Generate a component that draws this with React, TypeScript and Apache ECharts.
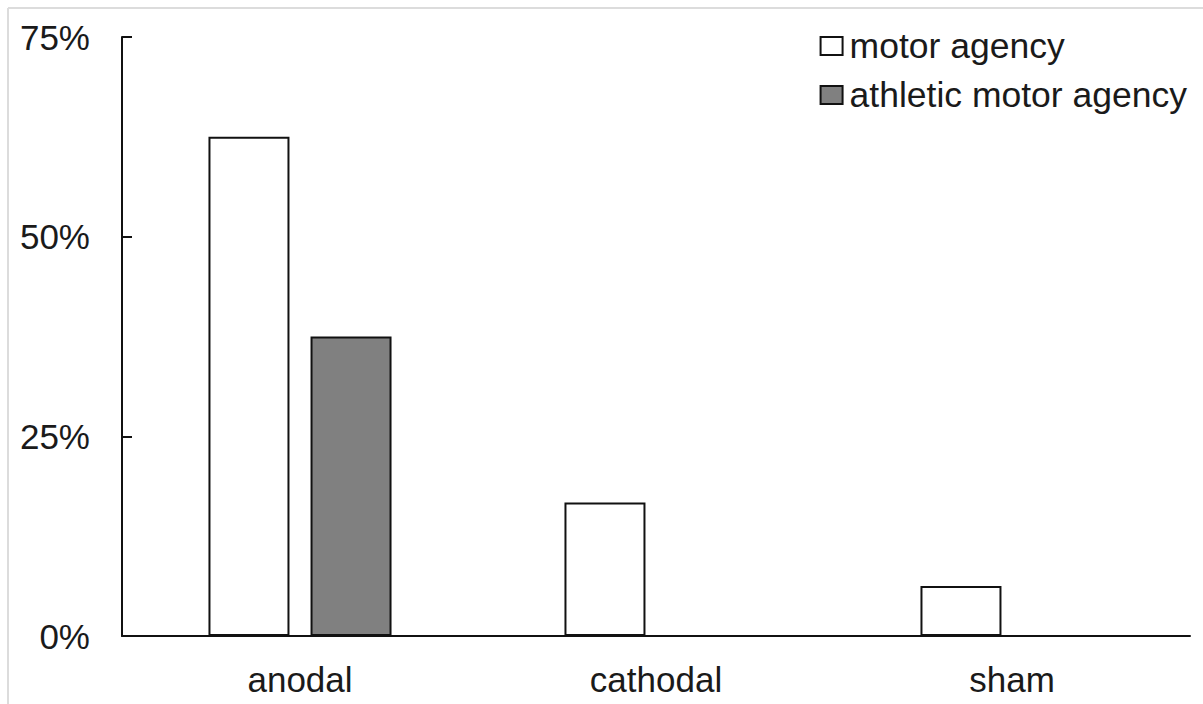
import React, { useEffect, useRef } from "react";
import * as echarts from "echarts";

const categories = ["anodal", "cathodal", "sham"];
const motorAgency = [62.5, 16.7, 6.25];
const athleticMotorAgency = [37.5, 0, 0];
const yTicks = [0, 25, 50, 75];

export default function App() {
  const ref = useRef<HTMLDivElement>(null);
  useEffect(() => {
    if (!ref.current) return;
    const chart = echarts.init(ref.current, null, { renderer: "svg" });
    const font = "Liberation Sans, Arial, sans-serif";
    chart.setOption({
      animation: false,
      backgroundColor: "#ffffff",
      grid: { left: 122, right: 13, top: 37, bottom: 68, containLabel: false },
      legend: {
        orient: "vertical",
        right: 11,
        top: 23,
        itemWidth: 22,
        itemHeight: 18,
        itemGap: 13,
        icon: "rect",
        textStyle: { fontFamily: font, fontSize: 35.5, color: "#1a1a1a", padding: [0, 0, 0, 2] },
        data: ["motor agency", "athletic motor agency"],
      },
      xAxis: {
        type: "category",
        data: categories,
        axisLine: { lineStyle: { color: "#111", width: 2 } },
        axisTick: { show: false },
        axisLabel: { fontFamily: font, fontSize: 35, color: "#1a1a1a", margin: 26 },
        splitLine: { show: false },
      },
      yAxis: {
        type: "value",
        min: yTicks[0],
        max: yTicks[yTicks.length - 1],
        interval: 25,
        axisLine: { show: true, lineStyle: { color: "#111", width: 2 } },
        axisTick: { show: true, inside: true, length: 10, lineStyle: { color: "#111", width: 2 } },
        axisLabel: {
          fontFamily: font,
          fontSize: 35,
          color: "#1a1a1a",
          margin: 32,
          padding: [0, 0, 5, 0],
          formatter: (v: number) => v + "%",
        },
        splitLine: { show: false },
      },
      series: [
        {
          name: "motor agency",
          type: "bar",
          data: motorAgency,
          barWidth: 81,
          barGap: "26%",
          itemStyle: { color: "#ffffff", borderColor: "#111", borderWidth: 2 },
        },
        {
          name: "athletic motor agency",
          type: "bar",
          data: athleticMotorAgency.map((v) => (v === 0 ? null : v)),
          barWidth: 81,
          itemStyle: { color: "#808080", borderColor: "#111", borderWidth: 2 },
        },
      ],
      graphic: [
        { type: "line", shape: { x1: 8, y1: 8, x2: 1203, y2: 8 }, style: { stroke: "#dcdcdc", lineWidth: 2 } },
        { type: "line", shape: { x1: 8, y1: 8, x2: 8, y2: 704 }, style: { stroke: "#dcdcdc", lineWidth: 2 } },
      ],
    });
    return () => chart.dispose();
  }, []);
  return (
    <div
      ref={ref}
      style={{ position: "fixed", left: 0, top: 0, width: 1203, height: 704, background: "#fff" }}
    />
  );
}
